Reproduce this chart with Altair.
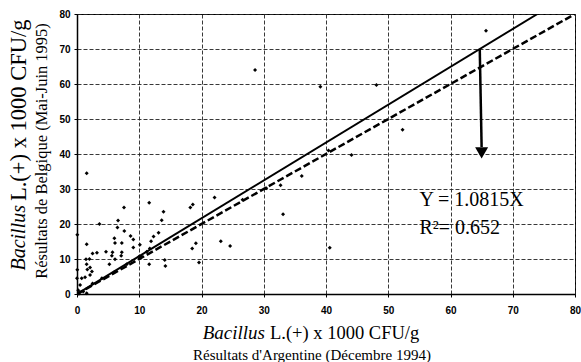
import altair as alt
import pandas as pd

# Data points (Argentine x, Belgique y), x1000 CFU/g
x_vals = [1.56, 11.6, 7.55, 13.9, 13.6, 3.6, 6.6, 6.5, 7.6, 8.6, 9.05, 6.0, 6.1, 7.2, 10.1, 9.05,
          13.1, 12.3, 11.9, 1.56, 0.05, 3.2, 2.5, 4.66, 5.7, 7.2, 5.6, 7.1, 6.1, 5.2, 1.45, 2.0,
          1.55, 2.1, 2.4, 1.66, 2.1, 0.05, 0.0, 0.75, 1.3, 0.5, 0.2, 1.0, 1.56, 0.3, 11.6, 14.2,
          14.1, 11.7, 11.2, 10.4, 22.1, 18.6, 18.2, 23.1, 24.6, 19.1, 18.5, 19.6, 26.6, 30.4,
          36.1, 32.7, 33.1, 40.6, 39.1, 48.1, 52.3, 44.1, 40.4, 28.6, 65.7,
          2.5, 4.0, 6.0, 8.0, 10.0]
y_vals = [34.5, 26.1, 24.7, 23.5, 21.1, 20.0, 21.0, 19.0, 18.0, 16.6, 15.6, 15.9, 14.6, 14.6, 14.1, 13.3,
          17.5, 16.4, 15.1, 14.2, 16.9, 11.8, 11.6, 12.1, 11.9, 11.9, 10.9, 10.9, 9.9, 8.5, 9.9, 10.0,
          8.5, 7.6, 6.4, 7.0, 5.4, 6.9, 4.5, 4.5, 4.8, 2.6, 1.1, 0.7, 0.2, 0.1, 8.5, 8.0,
          9.7, 13.0, 12.1, 10.7, 27.6, 25.6, 24.7, 15.1, 13.7, 14.5, 13.0, 9.0, 26.9, 30.2,
          33.7, 31.1, 22.8, 13.2, 59.2, 59.7, 46.9, 39.7, 41.0, 64.0, 75.2,
          3.0, 4.5, 6.3, 8.5, 10.7]

# Regression line (solid) and 1:1 line (dashed) end points
fit_x = [0, 73.97]
fit_y = [0, 80]
ident_x = [0, 80]
ident_y = [0, 80]

# Arrow
arrow_x = [64.7, 65.0]
arrow_y = [70.0, 42.0]
arrow_head_x = [65.0]
arrow_head_y = [40.3]

# Annotations
ann_text = ["Y = 1.0815X", "R\u00b2= 0.652"]
ann_x = [55.0, 55.0]
ann_y = [27.0, 19.0]

ticks = [0, 10, 20, 30, 40, 50, 60, 70, 80]

pts = pd.DataFrame({"x": x_vals, "y": y_vals})
fit = pd.DataFrame({"x": fit_x, "y": fit_y})
ident = pd.DataFrame({"x": ident_x, "y": ident_y})
arrow = pd.DataFrame({"x": [arrow_x[0]], "x2": [arrow_x[1]], "y": [arrow_y[0]], "y2": [arrow_y[1]]})
head = pd.DataFrame({"x": arrow_head_x, "y": arrow_head_y})
ann = pd.DataFrame({"t": ann_text, "x": ann_x, "y": ann_y})

xs = alt.Scale(domain=[0, 80], nice=False, zero=False)
ys = alt.Scale(domain=[0, 80], nice=False, zero=False)

axis_common = dict(
    values=ticks, grid=True, gridColor="#222222", gridDash=[4, 2], gridWidth=0.9,
    domainColor="black", domainWidth=1.5, tickColor="black", tickSize=3,
    labelFont="Liberation Sans", labelFontWeight="bold", labelFontSize=10,
    labelColor="black", labelFlush=False, title=None,
)

X = alt.X("x:Q", scale=xs, axis=alt.Axis(labelPadding=8, **axis_common))
Y = alt.Y("y:Q", scale=ys, axis=alt.Axis(labelPadding=4, **axis_common))

points = alt.Chart(pts).mark_point(shape="diamond", filled=True, size=16, color="black", opacity=1).encode(x=X, y=Y)
fit_line = alt.Chart(fit).mark_line(color="black", strokeWidth=2, clip=True).encode(x=X, y=Y)
ident_line = alt.Chart(ident).mark_line(color="black", strokeWidth=2.5, strokeDash=[7, 3], clip=True).encode(x=X, y=Y)
arrow_line = alt.Chart(arrow).mark_rule(color="black", strokeWidth=2.5).encode(x=X, y=Y, x2="x2:Q", y2="y2:Q")
arrow_head = alt.Chart(head).mark_point(shape="triangle-down", filled=True, size=170, color="black", opacity=1).encode(x=X, y=Y)
ann_text_m = alt.Chart(ann).mark_text(font="Liberation Serif", fontSize=20, align="left", baseline="middle", color="black").encode(x=X, y=Y, text="t:N")

serif = "Liberation Serif"
# Axis titles as text (mixed italic)
xt1a = alt.Chart(pd.DataFrame({"t": ["Bacillus"]})).mark_text(font=serif, fontSize=19, fontStyle="italic", align="right", baseline="middle", color="black").encode(text="t:N", x=alt.value(188), y=alt.value(319))
xt1b = alt.Chart(pd.DataFrame({"t": ["L.(+)  x 1000 CFU/g"]})).mark_text(font=serif, fontSize=18.5, align="left", baseline="middle", color="black").encode(text="t:N", x=alt.value(193), y=alt.value(319))
xt2 = alt.Chart(pd.DataFrame({"t": ["R\u00e9sultats d'Argentine (D\u00e9cembre 1994)"]})).mark_text(font=serif, fontSize=15, align="center", baseline="middle", color="black").encode(text="t:N", x=alt.value(235), y=alt.value(341))

yt1a = alt.Chart(pd.DataFrame({"t": ["Bacillus"]})).mark_text(font=serif, fontSize=20, fontStyle="italic", angle=270, align="right", baseline="middle", color="black").encode(text="t:N", x=alt.value(-58), y=alt.value(191))
yt1b = alt.Chart(pd.DataFrame({"t": ["L.(+)  x 1000 CFU/g"]})).mark_text(font=serif, fontSize=22.5, angle=270, align="left", baseline="middle", color="black").encode(text="t:N", x=alt.value(-58), y=alt.value(187))
yt2 = alt.Chart(pd.DataFrame({"t": ["R\u00e9sultats de Belgique (Mai-Juin 1995)"]})).mark_text(font=serif, fontSize=16.5, angle=270, align="center", baseline="middle", color="black").encode(text="t:N", x=alt.value(-35), y=alt.value(137))

chart = alt.layer(
    points, ident_line, fit_line, arrow_line, arrow_head, ann_text_m,
    xt1a, xt1b, xt2, yt1a, yt1b, yt2,
).properties(
    width=498, height=280,
    autosize=alt.AutoSizeParams(type="none"),
    padding={"left": 77, "top": 14, "right": 6, "bottom": 68},
    background="white",
).configure_view(stroke="black", strokeWidth=1)

chart.save("out.html", embed_options={"renderer": "svg", "actions": False})
